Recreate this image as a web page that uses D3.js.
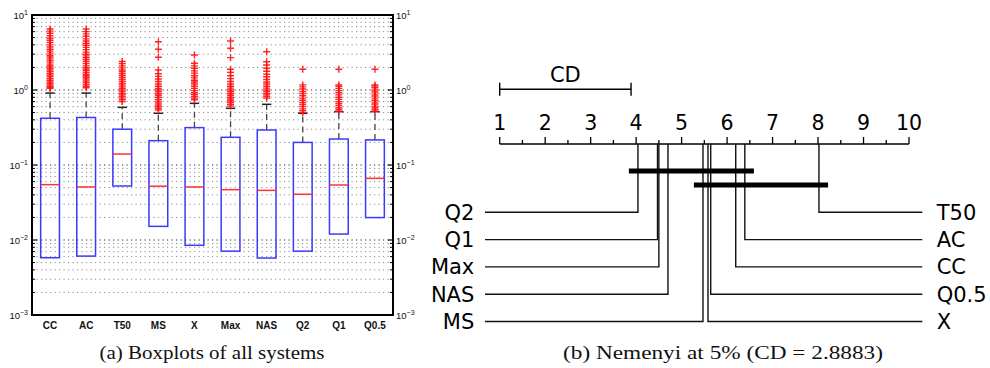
<!DOCTYPE html>
<html><head><meta charset="utf-8">
<script src="https://cdn.jsdelivr.net/npm/d3@7"></script>
<style>body{margin:0;background:#fff}svg{display:block}</style>
</head><body>
<svg id="c" width="990" height="368"></svg>
<script>
// ---- Data: boxplots ----
const categories = ["CC","AC","T50","MS","X","Max","NAS","Q2","Q1","Q0.5"];
const q3Values     = [0.42, 0.43, 0.30, 0.211, 0.315, 0.234, 0.293, 0.200, 0.222, 0.216];
const medianValues = [0.0547,0.0509,0.140,0.0522,0.0509,0.0469,0.0459,0.0407,0.0541,0.0664];
const q1Values     = [0.0058,0.0061,0.0525,0.0152,0.0085,0.0071,0.00575,0.0071,0.0120,0.0199];
const upperWhisker = [0.91, 0.91, 0.587, 0.489, 0.664, 0.570, 0.644, 0.489, 0.514, 0.514];
const outliers = [
  [1.05,1.08,1.12,1.17,1.22,1.28,1.35,1.42,1.5,1.58,1.65,1.75,1.85,1.95,2.05,2.15,2.3,2.45,2.6,2.75,2.9,3.1,3.3,3.5,3.75,4.0,4.3,4.6,4.9,5.3,5.7,6.1,6.5],
  [1.07,1.12,1.18,1.25,1.32,1.4,1.48,1.55,1.62,1.72,1.82,1.9,1.98,2.1,2.25,2.4,2.55,2.7,2.85,3.0,3.2,3.45,3.7,3.95,4.2,4.5,4.8,5.2,5.6,6.0,6.5],
  [0.70,0.74,0.78,0.82,0.86,0.9,0.95,1.0,1.05,1.1,1.16,1.22,1.3,1.38,1.46,1.55,1.65,1.75,1.85,1.97,2.1,2.25,2.4],
  [0.54,0.57,0.6,0.63,0.67,0.71,0.75,0.8,0.85,0.9,0.95,1.0,1.05,1.12,1.2,1.3,1.4,1.52,1.65,1.85,2.73,3.5,4.4],
  [0.74,0.78,0.82,0.87,0.92,0.98,1.05,1.12,1.2,1.28,1.35,1.45,1.55,1.68,1.8,1.95,2.1,2.27,2.93],
  [0.61,0.64,0.68,0.72,0.76,0.8,0.85,0.9,0.95,1.0,1.06,1.12,1.2,1.3,1.42,1.55,1.72,1.89,2.7,3.6,4.5],
  [0.78,0.82,0.86,0.9,0.95,1.0,1.06,1.12,1.2,1.28,1.38,1.5,1.62,1.78,1.95,2.15,2.38,3.24],
  [0.5,0.53,0.56,0.6,0.64,0.68,0.73,0.78,0.84,0.9,0.96,1.03,1.1,1.17,1.89],
  [0.52,0.55,0.58,0.62,0.66,0.7,0.75,0.8,0.86,0.92,0.98,1.05,1.12,1.17,1.89],
  [0.52,0.55,0.58,0.61,0.65,0.69,0.73,0.78,0.83,0.88,0.94,1.0,1.07,1.13,1.17,1.89]
];
const yTickExps = [-3,-2,-1,0,1];

// ---- Data: Nemenyi ----
const leftNames  = ["Q2","Q1","Max","NAS","MS"];
const leftRanks  = [4.04,4.47,4.50,4.70,5.47];
const rightNames = ["T50","AC","CC","Q0.5","X"];
const rightRanks = [8.02,6.39,6.19,5.64,5.58];
const rankTicks = [1,2,3,4,5,6,7,8,9,10];
const cdValue = 2.8883;
const cliques = [[4.04,6.39],[5.47,8.02]];

const svg = d3.select("#c");

// ================= Left: boxplots =================
const L = {left:32, right:393, top:15, bottom:315};
const x = d3.scaleBand().domain(categories).range([L.left, L.right]);
const y = d3.scaleLog().domain([1e-3, 1e1]).range([L.bottom, L.top]);
const g1 = svg.append("g");

// grid
const minorVals = [];
for (let e=-3;e<1;e++) for (let m=2;m<=9;m++) minorVals.push(m*Math.pow(10,e));
g1.selectAll(".gmin").data(minorVals).enter().append("line")
  .attr("x1",L.left).attr("x2",L.right)
  .attr("y1",d=>y(d)).attr("y2",d=>y(d))
  .attr("stroke","#8a8a8a").attr("stroke-width",1).attr("stroke-dasharray","1.2,3.3");
g1.selectAll(".gmaj").data([1e-2,1e-1,1e0]).enter().append("line")
  .attr("x1",L.left).attr("x2",L.right)
  .attr("y1",d=>y(d)).attr("y2",d=>y(d))
  .attr("stroke","#222").attr("stroke-width",1).attr("stroke-dasharray","1.2,3.3");

// whiskers, boxes, outliers
categories.forEach((c,i)=>{
  const cx = x(c)+x.bandwidth()/2;
  g1.append("line").attr("x1",cx).attr("x2",cx)
    .attr("y1",y(q3Values[i])).attr("y2",y(upperWhisker[i]))
    .attr("stroke","#444").attr("stroke-width",1.3).attr("stroke-dasharray","6,4");
  g1.append("line").attr("x1",cx-x.bandwidth()*0.13).attr("x2",cx+x.bandwidth()*0.13)
    .attr("y1",y(upperWhisker[i])).attr("y2",y(upperWhisker[i]))
    .attr("stroke","#222").attr("stroke-width",1.5);
  g1.append("rect").attr("x",x(c)+x.bandwidth()*0.24).attr("width",x.bandwidth()*0.52)
    .attr("y",y(q3Values[i])).attr("height",y(q1Values[i])-y(q3Values[i]))
    .attr("fill","none").attr("stroke","#3a3aff").attr("stroke-width",1.5);
  g1.append("line").attr("x1",x(c)+x.bandwidth()*0.24).attr("x2",x(c)+x.bandwidth()*0.76)
    .attr("y1",y(medianValues[i])).attr("y2",y(medianValues[i]))
    .attr("stroke","#ff3030").attr("stroke-width",1.5);
  g1.selectAll(".o"+i).data(outliers[i]).enter().append("path")
    .attr("d",d=>`M${cx-3.5},${y(d)}h7M${cx},${y(d)-3.5}v7`)
    .attr("stroke","#ff1010").attr("stroke-width",1.4).attr("opacity",0.9);
});

// frame
g1.append("rect").attr("x",L.left).attr("y",L.top).attr("width",L.right-L.left).attr("height",L.bottom-L.top)
  .attr("fill","none").attr("stroke","#000").attr("stroke-width",2);

// axis ticks on both sides
g1.selectAll(".tmn").data(minorVals).enter().append("g").each(function(d){
  d3.select(this).append("line").attr("x1",L.left).attr("x2",L.left+3).attr("y1",y(d)).attr("y2",y(d)).attr("stroke","#000");
  d3.select(this).append("line").attr("x1",L.right-3).attr("x2",L.right).attr("y1",y(d)).attr("y2",y(d)).attr("stroke","#000");
});
yTickExps.forEach(e=>{
  const v = Math.pow(10,e), yy = y(v);
  g1.append("line").attr("x1",L.left).attr("x2",L.left+5).attr("y1",yy).attr("y2",yy).attr("stroke","#000").attr("stroke-width",1.2);
  g1.append("line").attr("x1",L.right-5).attr("x2",L.right).attr("y1",yy).attr("y2",yy).attr("stroke","#000").attr("stroke-width",1.2);
  const supTxt = e<0 ? "\u2212"+(-e) : String(e);
  const tl = g1.append("text").attr("x",28).attr("y",yy+4).attr("text-anchor","end")
    .attr("font-family","Liberation Sans, Arial, sans-serif").attr("font-size",9.5).attr("fill","#111");
  tl.append("tspan").text("10");
  tl.append("tspan").attr("dy",-4.5).attr("font-size",7).text(supTxt);
  const tr = g1.append("text").attr("x",396).attr("y",yy+4).attr("text-anchor","start")
    .attr("font-family","Liberation Sans, Arial, sans-serif").attr("font-size",9.5).attr("fill","#111");
  tr.append("tspan").text("10");
  tr.append("tspan").attr("dy",-4.5).attr("font-size",7).text(supTxt);
});
// category labels
g1.selectAll(".cl").data(categories).enter().append("text")
  .attr("x",d=>x(d)+x.bandwidth()/2).attr("y",329).attr("text-anchor","middle")
  .attr("font-family","Liberation Sans, Arial, sans-serif").attr("font-weight","bold").attr("font-size",10)
  .attr("fill","#111").text(d=>d);
svg.append("text").attr("x",212).attr("y",359).attr("text-anchor","middle")
  .attr("font-family","Liberation Serif, Times New Roman, serif").attr("font-size",19).attr("fill","#111")
  .attr("textLength",225).attr("lengthAdjust","spacingAndGlyphs")
  .text("(a) Boxplots of all systems");

// ================= Right: Nemenyi =================
const r = d3.scaleLinear().domain([1,10]).range([499.7,909]);
const axisY = 144;
const g2 = svg.append("g");
const font2 = "DejaVu Sans, Verdana, sans-serif";
g2.append("line").attr("x1",r(1)).attr("x2",r(10)).attr("y1",axisY).attr("y2",axisY).attr("stroke","#000").attr("stroke-width",1.5);
const halfTicks = d3.range(1,10).map(v=>v+0.5);
g2.selectAll(".ht").data(halfTicks).enter().append("line")
  .attr("x1",d=>r(d)).attr("x2",d=>r(d)).attr("y1",axisY).attr("y2",axisY-4)
  .attr("stroke","#000").attr("stroke-width",1.3);
g2.selectAll(".mt").data(rankTicks).enter().append("line")
  .attr("x1",d=>r(d)).attr("x2",d=>r(d)).attr("y1",axisY).attr("y2",axisY-7)
  .attr("stroke","#000").attr("stroke-width",1.3);
g2.selectAll(".ml").data(rankTicks).enter().append("text")
  .attr("x",d=>r(d)).attr("y",130).attr("text-anchor","middle")
  .attr("font-family",font2).attr("font-size",20.5).attr("fill","#000").text(d=>d);

// CD bar
const cdY = 89.3;
g2.append("line").attr("x1",r(1)).attr("x2",r(1+cdValue)).attr("y1",cdY).attr("y2",cdY).attr("stroke","#000").attr("stroke-width",1.4);
[1,1+cdValue].forEach(v=>{
  g2.append("line").attr("x1",r(v)).attr("x2",r(v)).attr("y1",cdY-6.5).attr("y2",cdY+6.5).attr("stroke","#000").attr("stroke-width",1.4);
});
g2.append("text").attr("x",(r(1)+r(1+cdValue))/2).attr("y",82).attr("text-anchor","middle")
  .attr("font-family",font2).attr("font-size",21).attr("fill","#000").text("CD");

// rank lines
const rowY0 = 212.3, rowStep = 27.3;
leftNames.forEach((n,i)=>{
  const yy = rowY0+i*rowStep, xx = r(leftRanks[i]);
  g2.append("path").attr("d",`M${xx},${axisY}V${yy}H485`).attr("fill","none").attr("stroke","#111").attr("stroke-width",1.4);
  g2.append("text").attr("x",474.3).attr("y",yy+7.3).attr("text-anchor","end")
    .attr("font-family",font2).attr("font-size",21).attr("fill","#000").text(n);
});
rightNames.forEach((n,i)=>{
  const yy = rowY0+i*rowStep, xx = r(rightRanks[i]);
  g2.append("path").attr("d",`M${xx},${axisY}V${yy}H922.3`).attr("fill","none").attr("stroke","#111").attr("stroke-width",1.4);
  g2.append("text").attr("x",936.7).attr("y",yy+7.3).attr("text-anchor","start")
    .attr("font-family",font2).attr("font-size",21).attr("fill","#000").text(n);
});
// cliques
const cliqueY = [171,185];
cliques.forEach((c,i)=>{
  g2.append("line").attr("x1",r(c[0]-0.2)).attr("x2",r(c[1]+0.2))
    .attr("y1",cliqueY[i]).attr("y2",cliqueY[i]).attr("stroke","#000").attr("stroke-width",5);
});
svg.append("text").attr("x",723).attr("y",359).attr("text-anchor","middle")
  .attr("font-family","Liberation Serif, Times New Roman, serif").attr("font-size",19).attr("fill","#111")
  .attr("textLength",320).attr("lengthAdjust","spacingAndGlyphs")
  .text("(b) Nemenyi at 5% (CD = 2.8883)");
</script>
</body></html>
